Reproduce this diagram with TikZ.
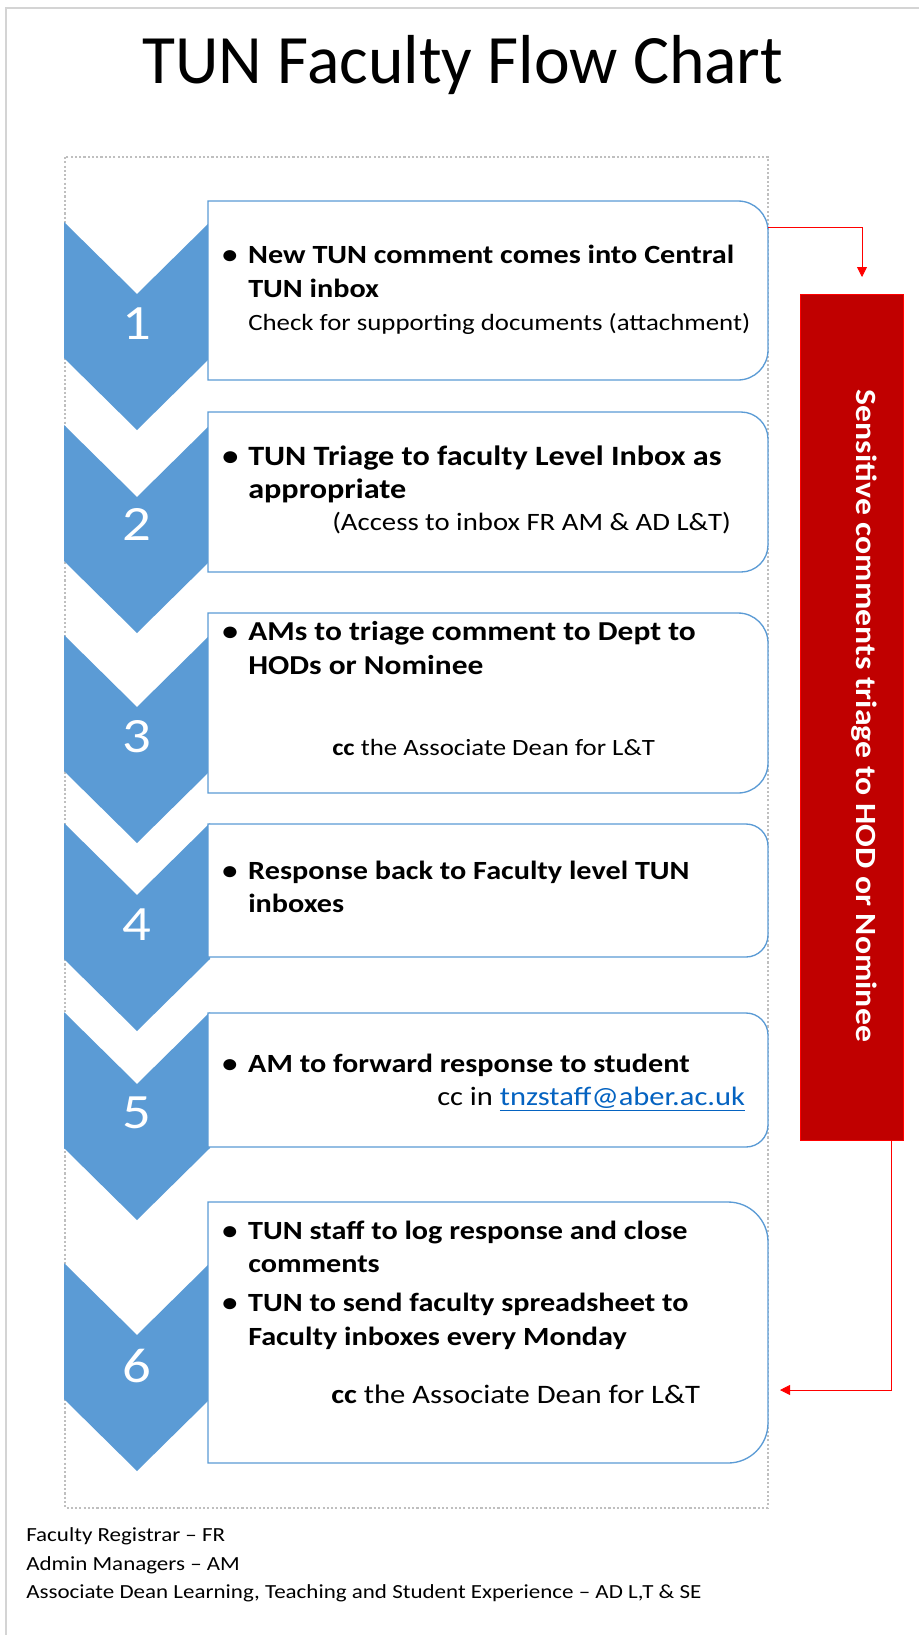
\documentclass[tikz,border=0pt]{standalone}
\usepackage{fontspec}
\setmainfont{Carlito}[FakeStretch=1.15]
\newfontfamily\titlefont{Carlito}[FakeStretch=0.975]
\usetikzlibrary{arrows.meta}
\definecolor{tunblue}{HTML}{5B9BD5}
\definecolor{tunred}{HTML}{C00000}
\definecolor{linkblue}{HTML}{0563C1}
\definecolor{framegray}{HTML}{BFBFBF}
\definecolor{pagegray}{HTML}{D4D4D4}
\tikzset{
  chev/.style={fill=tunblue},
  num/.style={text=white, inner sep=0pt, font=\fontsize{37}{40}\selectfont},
  stepbox/.style={draw=tunblue, fill=white, line width=1pt},
  item/.style={anchor=base west, inner sep=0pt, font=\fontsize{#1}{24}\selectfont\bfseries},
  item/.default=19.7,
  note/.style={anchor=base west, inner sep=0pt, font=\fontsize{#1}{#1}\selectfont},
  foot/.style={anchor=base west, inner sep=0pt, font=\fontsize{15}{16}\selectfont},
  redline/.style={draw=red, line width=0.6pt},
  redtip/.style={-{Triangle[length=7.5pt,width=7.5pt]}},
}

\begin{document}
\begin{tikzpicture}[x=0.75pt,y=-0.75pt]
\useasboundingbox (0,0) rectangle (919,1635);
\draw[pagegray, line width=1.5pt] (6,1635) -- (6,8) -- (919,8);
\node[anchor=base, inner sep=0pt, font=\titlefont\fontsize{52}{56}\selectfont] (title) at (463,83) {TUN Faculty Flow Chart};
\draw[framegray, line width=1.2pt, dash pattern=on 1.6pt off 1.6pt] (65,157) rectangle (768,1508);

% chevrons
\fill[chev] (64,222) -- ++(73,72) -- ++(73,-72) -- ++(0,136) -- ++(-73,72) -- ++(-73,-72) -- cycle;
\fill[chev] (64,425) -- ++(73,72) -- ++(73,-72) -- ++(0,136) -- ++(-73,72) -- ++(-73,-72) -- cycle;
\fill[chev] (64,635) -- ++(73,72) -- ++(73,-72) -- ++(0,136) -- ++(-73,72) -- ++(-73,-72) -- cycle;
\fill[chev] (64,823) -- ++(73,72) -- ++(73,-72) -- ++(0,136) -- ++(-73,72) -- ++(-73,-72) -- cycle;
\fill[chev] (64,1012) -- ++(73,72) -- ++(73,-72) -- ++(0,136) -- ++(-73,72) -- ++(-73,-72) -- cycle;
\fill[chev] (64,1263) -- ++(73,72) -- ++(73,-72) -- ++(0,136) -- ++(-73,72) -- ++(-73,-72) -- cycle;
\node[num] (n1) at (137,324) {1};
\node[num] (n2) at (137,524) {2};
\node[num] (n3) at (137,737) {3};
\node[num] (n4) at (137,925) {4};
\node[num] (n5) at (137,1113) {5};
\node[num] (n6) at (137,1366) {6};

% boxes
\draw[stepbox] (208,201) -- (738,201) arc[start angle=90,end angle=0,radius=22.5pt] -- (768,350) arc[start angle=0,end angle=-90,radius=22.5pt] -- (208,380) -- cycle;
\draw[stepbox] (208,412) -- (741,412) arc[start angle=90,end angle=0,radius=20.25pt] -- (768,545) arc[start angle=0,end angle=-90,radius=20.25pt] -- (208,572) -- cycle;
\draw[stepbox] (208,613) -- (738,613) arc[start angle=90,end angle=0,radius=22.5pt] -- (768,763) arc[start angle=0,end angle=-90,radius=22.5pt] -- (208,793) -- cycle;
\draw[stepbox] (208,824) -- (746,824) arc[start angle=90,end angle=0,radius=16.5pt] -- (768,935) arc[start angle=0,end angle=-90,radius=16.5pt] -- (208,957) -- cycle;
\draw[stepbox] (208,1013) -- (746,1013) arc[start angle=90,end angle=0,radius=16.5pt] -- (768,1125) arc[start angle=0,end angle=-90,radius=16.5pt] -- (208,1147) -- cycle;
\draw[stepbox] (208,1202) -- (728,1202) arc[start angle=90,end angle=0,radius=30pt] -- (768,1423) arc[start angle=0,end angle=-90,radius=30pt] -- (208,1463) -- cycle;

% box texts
\node[item] (t11) at (222,263) {\makebox[19.5pt][l]{•}New TUN comment comes into Central};
\node[item] (t12) at (248,297) {TUN inbox};
\node[note=17.5] (t13) at (248,330) {Check for supporting documents (attachment)};
\node[item=21] (t21) at (222,465) {\makebox[19.5pt][l]{•}TUN Triage to faculty Level Inbox as};
\node[item=21] (t22) at (248,498) {appropriate};
\node[note=18.75] (t23) at (332,530) {(Access to inbox FR AM \& AD L\&T)};
\node[item=20.5] (t31) at (222,640) {\makebox[19.5pt][l]{•}AMs to triage comment to Dept to};
\node[item=20.5] (t32) at (248,674) {HODs or Nominee};
\node[note=17.5] (t33) at (332,755) {\textbf{cc} the Associate Dean for L\&T};
\node[item] (t41) at (222,879) {\makebox[19.5pt][l]{•}Response back to Faculty level TUN};
\node[item] (t42) at (248,912) {inboxes};
\node[item] (t51) at (222,1072) {\makebox[19.5pt][l]{•}AM to forward response to student};
\node[note=19.9] (t52) at (437,1105) {cc in \textcolor{linkblue}{\underline{tnzstaff@aber.ac.uk}}};
\node[item] (t61) at (222,1239) {\makebox[19.5pt][l]{•}TUN staff to log response and close};
\node[item] (t62) at (248,1272) {comments};
\node[item] (t63) at (222,1311) {\makebox[19.5pt][l]{•}TUN to send faculty spreadsheet to};
\node[item] (t64) at (248,1345) {Faculty inboxes every Monday};
\node[note=20] (t65) at (331,1403) {\textbf{cc} the Associate Dean for L\&T};

% sensitive route
\node[fill=tunred, draw=red, line width=0.6pt, minimum width=77.25pt, minimum height=634.5pt] (bar) at (851.5,717) {};
\node[rotate=-90, text=white, inner sep=0pt, font=\fontsize{22}{24}\selectfont\bfseries] (barlabel) at (864,716) {Sensitive comments triage to HOD or Nominee};
\coordinate (c1) at (768,227);
\coordinate (a1) at (862,277);
\draw[redline,redtip] (c1) -| (a1);
\coordinate (c6) at (780,1390);
\draw[redline,redtip] ([xshift=29.6pt]bar.south) |- (c6);

\node[foot] (f1) at (26,1541) {Faculty Registrar – FR};
\node[foot] (f2) at (26,1570) {Admin Managers – AM};
\node[foot] (f3) at (26,1598) {Associate Dean Learning, Teaching and Student Experience – AD L,T \& SE};
\end{tikzpicture}
\end{document}
